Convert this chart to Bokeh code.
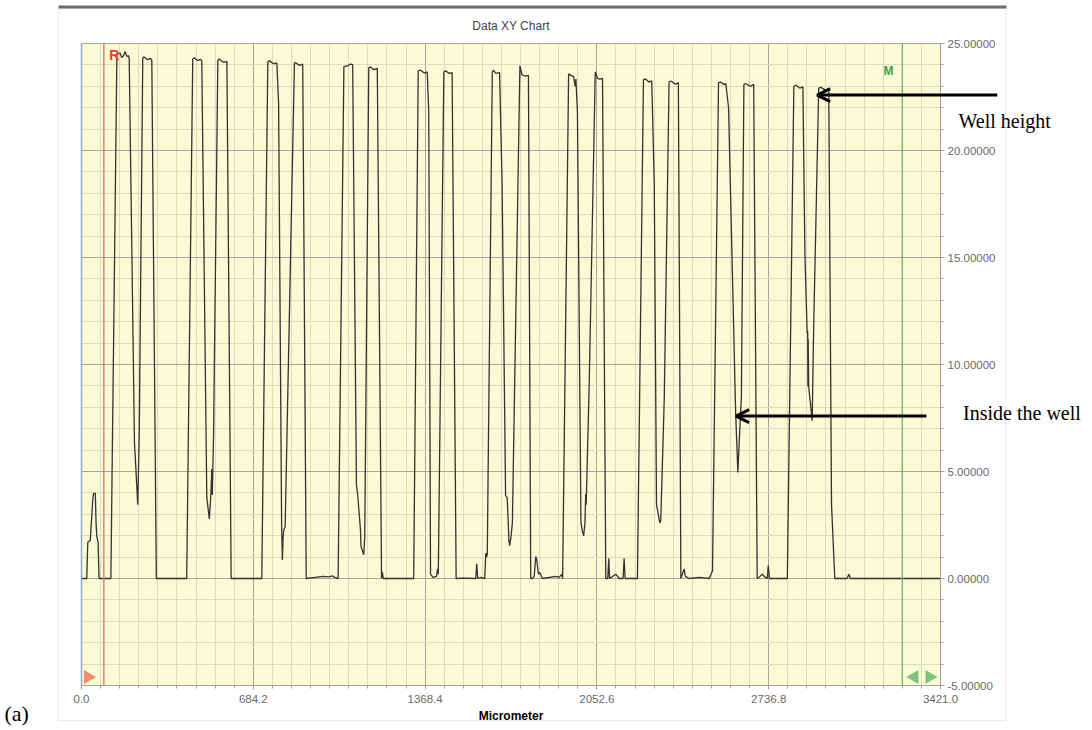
import numpy as np
from bokeh.plotting import figure
from bokeh.models import (Range1d, FixedTicker, PrintfTickFormatter, Label,
                          Arrow, OpenHead, BoxAnnotation)
from bokeh.embed import file_html
from bokeh.resources import INLINE

# ---------------- data (micrometer, height) ----------------
x_um = [
    0, 21, 25, 35, 45, 48, 55, 58, 61, 66, 70,
    117, 141, 154, 160, 167, 174, 180, 187, 190, 211, 214, 224, 226, 230, 244, 248, 262, 276, 280, 298,
    419, 443, 450, 462, 473, 479, 499, 509, 515, 519, 521, 526, 543, 548, 565, 579, 596,
    718, 742, 747, 765, 778, 785, 797, 800, 803, 806, 811, 848, 852, 868, 881, 895,
    930, 960, 985, 1000, 1010, 1022,
    1045, 1060, 1071, 1080, 1095, 1100, 1111, 1113, 1124, 1128, 1144, 1150, 1165, 1178, 1195, 1198, 1202, 1323,
    1341, 1350, 1365, 1377, 1383, 1390, 1400, 1414, 1418, 1421, 1443, 1450, 1465, 1476, 1492,
    1520, 1570, 1574, 1578, 1590, 1606, 1610, 1613, 1616,
    1636, 1641, 1650, 1665, 1675, 1689, 1695, 1700, 1702, 1705, 1710, 1716, 1746, 1754, 1768, 1780, 1789,
    1795, 1803, 1809, 1812, 1820, 1825, 1836, 1889, 1902, 1913, 1916,
    1940, 1949, 1960, 1966, 1969, 1975, 1989, 1995, 2000, 2005, 2008, 2010, 2022, 2024, 2046, 2055, 2065, 2075, 2088,
    2096, 2100, 2103, 2128, 2141, 2157, 2161, 2165, 2214,
    2238, 2245, 2260, 2271, 2281, 2290, 2298, 2303, 2307, 2321, 2340, 2348, 2365, 2377, 2387,
    2393, 2400, 2405, 2420, 2460, 2500, 2513,
    2537, 2545, 2558, 2566, 2577, 2605, 2614, 2621, 2628, 2638, 2645, 2665, 2677, 2691,
    2697, 2711, 2724, 2731, 2735, 2740, 2811,
    2837, 2845, 2860, 2873, 2881, 2890, 2892, 2893, 2894, 2896, 2910, 2916, 2936, 2945, 2965, 2976, 2987, 3000,
    3049, 3056, 3062, 3421,
]
height = [
    0, 0, 1.69, 1.78, 3.7, 3.98, 3.98, 2.6, 1.95, 1.7, 0,
    0, 24.51, 24.54, 24.35, 24.43, 24.62, 24.4, 24.43, 24.3, 6.29, 5.71, 3.45, 4.5, 6.79, 24.31, 24.38, 24.25, 24.3, 24.2, 0,
    0, 24.26, 24.33, 24.2, 24.26, 24.21, 3.79, 2.78, 3.87, 5.12, 3.9, 6.79, 24.21, 24.28, 24.12, 24.17, 0,
    0, 24.14, 24.2, 24.05, 24.09, 22.17, 2.45, 0.86, 1.95, 2.3, 2.4, 24.09, 24.1, 23.98, 24.04, 0,
    0.05, 0.1, 0.08, 0.12, 0.04, 0,
    23.92, 23.95, 24.04, 24.01, 4.37, 3.9, 2.28, 1.5, 1.11, 1.9, 23.87, 23.9, 23.78, 23.84, 0, 0.3, 0, 0,
    23.71, 23.76, 23.62, 23.67, 21.8, 0.2, 0.05, 0.1, 0.44, 0.2, 23.67, 23.72, 23.6, 23.64, 0,
    0.02, 0, 0.69, 0, 0.05, 0, 1.19, 1.0, 1.11,
    23.67, 23.75, 23.6, 23.64, 18.49, 3.87, 3.79, 2.5, 1.78, 1.53, 1.9, 2.6, 23.97, 23.54, 23.48, 23.51, 0,
    0, 0.1, 1.02, 0.95, 0.2, 0.28, 0, 0.1, 0.05, 0.2, 0,
    23.59, 23.51, 23.45, 23.0, 23.34, 21.83, 2.62, 2.2, 2.0, 2.6, 3.95, 3.45, 9.13, 10.3, 23.67, 23.37, 23.33, 23.37, 0,
    0, 0.94, 0, 0.2, 0, 0, 0.94, 0, 0,
    23.3, 23.35, 23.2, 23.25, 18.49, 3.45, 2.95, 2.6, 2.7, 8.47, 23.2, 23.25, 23.1, 23.17, 0,
    0.2, 0.44, 0.1, 0, 0.05, 0, 0.36,
    23.17, 23.2, 23.08, 23.13, 22.0, 7.8, 4.96, 6.79, 8.47, 23.09, 23.12, 23.0, 23.09, 0,
    0.04, 0.2, 0.05, 0, 0.61, 0, 0,
    23.0, 23.05, 22.92, 22.97, 15.15, 11.47, 11.55, 8.97, 11.2, 8.97, 7.37, 11.8, 22.92, 22.95, 22.8, 22.84, 3.45, 0,
    0, 0.2, 0, 0,
]

x_ticks = [0.0, 684.2, 1368.4, 2052.6, 2736.8, 3421.0]
y_ticks = [-5, 0, 5, 10, 15, 20, 25]
r_cursor = 89
m_cursor = 3269
well_height_point = (2930, 22.59)
inside_well_point = (2607, 7.59)

# ---------------- layout constants (px) ----------------
W, H = 1092, 730
FL, FT, FW, FH = 81, 43, 859, 642          # chart area left/top/width/height on the canvas
X0, X1, Y0, Y1 = 0, 3421, -5, 25
kx = (X1 - X0) / FW
ky = (Y1 - Y0) / FH

# the plotting frame covers the whole canvas; the chart area sits inside it
p = figure(width=W, height=H,
           x_range=Range1d(X0 - FL * kx, X1 + (W - FL - FW) * kx),
           y_range=Range1d(Y0 - (H - FT - FH) * ky, Y1 + FT * ky),
           output_backend="svg", toolbar_location=None, y_axis_location="right",
           min_border=0)
p.title.visible = False
p.background_fill_color = "white"
p.border_fill_color = "white"
p.outline_line_color = None

# chart area background
p.quad(left=[X0], right=[X1], bottom=[Y0], top=[Y1], fill_color="#FAFAD4",
       line_color="#A0A0A0", line_width=1, level="image")

# ticks / grid
x_minor = list(np.linspace(X0, X1, 46))
y_minor = list(range(Y0, Y1 + 1))
xt = FixedTicker(ticks=x_ticks, minor_ticks=x_minor)
yt = FixedTicker(ticks=y_ticks, minor_ticks=y_minor)
p.xaxis.ticker = xt
p.xgrid.ticker = xt
p.yaxis.ticker = yt
p.ygrid.ticker = yt
p.xgrid.bounds = (X0, X1)
p.xgrid.cross_bounds = (Y0, Y1)
p.ygrid.bounds = (Y0, Y1)
p.ygrid.cross_bounds = (X0, X1)
for g in (p.xgrid, p.ygrid):
    g.grid_line_color = "#A6A69A"
    g.minor_grid_line_color = "#DCDCC2"
    g.grid_line_width = 1

# axes drawn at the chart area's edges
p.xaxis.fixed_location = Y0
p.xaxis.bounds = (X0, X1)
p.yaxis.fixed_location = X1
p.yaxis.bounds = (Y0, Y1)
p.xaxis.formatter = PrintfTickFormatter(format="%.1f")
p.yaxis.formatter = PrintfTickFormatter(format="%.5f")
for ax in (p.xaxis, p.yaxis):
    ax.axis_line_color = "#A0A0A0"
    ax.major_tick_line_color = "#A0A0A0"
    ax.minor_tick_line_color = "#A0A0A0"
    ax.major_tick_in = 0
    ax.minor_tick_in = 0
    ax.major_tick_out = 4
    ax.minor_tick_out = 3
    ax.major_label_text_font = "Liberation Sans"
    ax.major_label_text_font_size = "11.5px"
    ax.major_label_text_color = "#6A6A6A"
p.xaxis.major_label_standoff = 5
p.yaxis.major_label_standoff = 3
p.xaxis.axis_label = "Micrometer"
p.xaxis.axis_label_text_font = "Liberation Sans"
p.xaxis.axis_label_text_font_size = "12px"
p.xaxis.axis_label_text_font_style = "bold"
p.xaxis.axis_label_text_color = "black"
p.xaxis.axis_label_standoff = 3

# chart title
p.add_layout(Label(x=(X0 + X1) / 2, y=Y1 + 18 * ky, text="Data XY Chart", text_align="center",
                   text_baseline="middle", text_font="Liberation Sans", text_font_size="12px",
                   text_color="#444444"))

# profile trace
p.line(x_um, height, line_color="#333333", line_width=1.3)

# left edge and cursors
p.segment(x0=[X0], y0=[Y0], x1=[X0], y1=[Y1], line_color="#8FA9E0", line_width=1.5)
p.segment(x0=[r_cursor], y0=[Y0], x1=[r_cursor], y1=[Y1], line_color="#E8735F", line_width=1.3)
p.segment(x0=[m_cursor], y0=[Y0], x1=[m_cursor], y1=[Y1], line_color="#6DB26D", line_width=1.3)
p.add_layout(Label(x=111, y=24.47, text="R", text_color="#E8402F", text_font="Liberation Sans",
                   text_font_style="bold", text_font_size="14px", text_baseline="middle"))
p.add_layout(Label(x=3194, y=23.72, text="M", text_color="#3DA03D", text_font="Liberation Sans",
                   text_font_style="bold", text_font_size="12px", text_baseline="middle"))
p.scatter([26], [-4.6], marker="triangle", size=14, angle=-np.pi / 2,
          fill_color="#F58C73", line_color=None)
p.scatter([3317, 3377], [-4.6, -4.6], marker="triangle", size=14, angle=[np.pi / 2, -np.pi / 2],
          fill_color="#7CC47C", line_color=None)

# outer chart box (screen px, y up from the canvas bottom)
p.add_layout(BoxAnnotation(left=58, right=1005, bottom=H - 720, top=H - 8,
                           left_units="screen", right_units="screen",
                           bottom_units="screen", top_units="screen",
                           fill_color=None, line_color="#C4C4C4", line_width=1))
p.add_layout(BoxAnnotation(left=58, right=1006, bottom=H - 8, top=H - 5,
                           left_units="screen", right_units="screen",
                           bottom_units="screen", top_units="screen",
                           fill_color="#6E6E6E", fill_alpha=1, line_color=None))

# annotations
p.add_layout(Arrow(end=OpenHead(size=13, line_width=3, line_color="black"),
                   x_start=3647, y_start=well_height_point[1],
                   x_end=well_height_point[0], y_end=well_height_point[1],
                   line_width=3, line_color="black"))
p.add_layout(Arrow(end=OpenHead(size=13, line_width=3, line_color="black"),
                   x_start=3365, y_start=inside_well_point[1],
                   x_end=inside_well_point[0], y_end=inside_well_point[1],
                   line_width=3, line_color="black"))
p.add_layout(Label(x=3493, y=21.4, text="Well height", text_font="Liberation Serif",
                   text_font_size="20px", text_color="black", text_baseline="middle"))
p.add_layout(Label(x=3511, y=7.72, text="Inside the well", text_font="Liberation Serif",
                   text_font_size="20px", text_color="black", text_baseline="middle"))
p.add_layout(Label(x=4, y=5, x_units="screen", y_units="screen", text="(a)",
                   text_font="Liberation Serif", text_font_size="22px", text_color="black",
                   text_baseline="bottom"))

open("out.html", "w").write(file_html(p, INLINE))
